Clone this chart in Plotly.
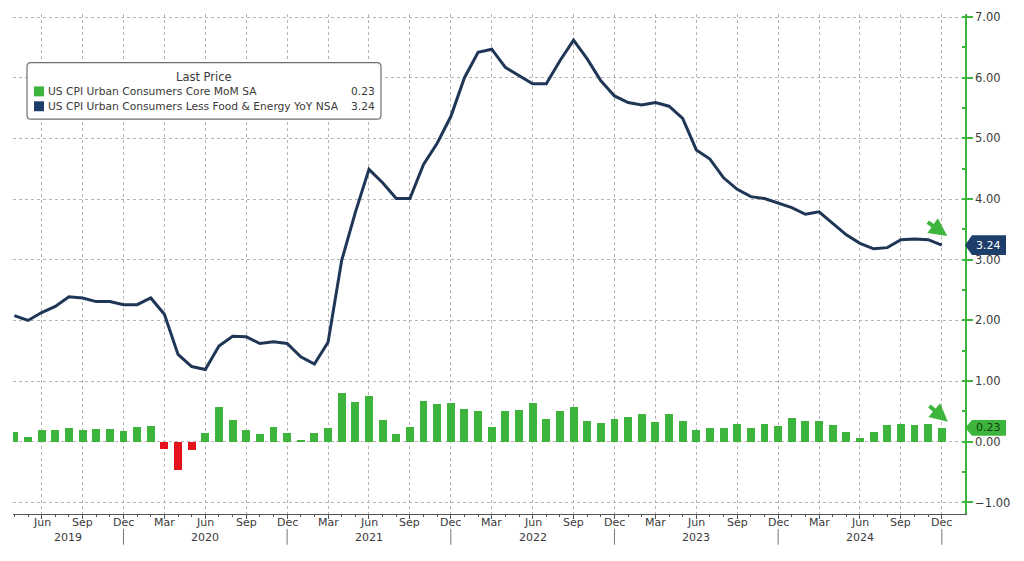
import plotly.graph_objects as go
import pandas as pd

# ---------------- data ----------------
months = pd.period_range("2019-04", "2024-12", freq="M")

core_mom = [
    0.16, 0.08, 0.19, 0.20, 0.22, 0.19, 0.21, 0.21, 0.17,
    0.245, 0.26, -0.12, -0.47, -0.13, 0.14, 0.58, 0.36, 0.19, 0.13, 0.25, 0.14,
    0.03, 0.14, 0.23, 0.80, 0.66, 0.75, 0.36, 0.13, 0.245, 0.68, 0.62, 0.64,
    0.54, 0.50, 0.245, 0.50, 0.53, 0.64, 0.37, 0.50, 0.58, 0.35, 0.31, 0.37,
    0.41, 0.46, 0.33, 0.46, 0.35, 0.19, 0.22, 0.22, 0.30, 0.23, 0.30, 0.26,
    0.39, 0.35, 0.35, 0.28, 0.16, 0.06, 0.16, 0.28, 0.30, 0.28, 0.30, 0.23,
]

core_yoy = [
    2.08, 2.00, 2.13, 2.23, 2.39, 2.37, 2.31, 2.31, 2.26,
    2.26, 2.37, 2.10, 1.44, 1.24, 1.19, 1.58, 1.74, 1.73, 1.62, 1.65, 1.62,
    1.40, 1.28, 1.64, 2.99, 3.78, 4.49, 4.27, 4.01, 4.01, 4.57, 4.92, 5.36,
    6.00, 6.42, 6.47, 6.17, 6.04, 5.90, 5.90, 6.28, 6.62, 6.31, 5.95, 5.70,
    5.59, 5.55, 5.59, 5.53, 5.33, 4.81, 4.66, 4.35, 4.16, 4.04, 4.01, 3.94,
    3.86, 3.75, 3.79, 3.60, 3.41, 3.27, 3.18, 3.20, 3.33, 3.34, 3.33, 3.24,
]

tick_labels = ["Jun", "Sep", "Dec",
               "Mar", "Jun", "Sep", "Dec",
               "Mar", "Jun", "Sep", "Dec",
               "Mar", "Jun", "Sep", "Dec",
               "Mar", "Jun", "Sep", "Dec",
               "Mar", "Jun", "Sep", "Dec"]
year_labels = ["2019", "2020", "2021", "2022", "2023", "2024"]

series_names = ["US CPI Urban Consumers Core MoM SA",
                "US CPI Urban Consumers Less Food & Energy YoY NSA"]

# ---------------- styling ----------------
GREEN = "#3db53d"
RED = "#e3121b"
NAVY = "#1f3656"
NAVY_BOX = "#1d3d6b"
GRID = "#b4b4b4"
TXT = "#3a3a3a"
FONT = "DejaVu Sans"

W, H = 1024, 561
ML, MR, MT, MB = 13, 59, 10, 47
PW, PH = W - ML - MR, H - MT - MB


def xp(px):
    return (px - ML) / PW


def yp(py):
    return (H - MB - py) / PH


idx = list(range(len(months)))
tick_pos = [i for i, m in enumerate(months) if m.month % 3 == 0]
dec_pos = [i for i, m in enumerate(months) if m.month == 12]

bar_colors = [GREEN if v >= 0 else RED for v in core_mom]

fig = go.Figure()
fig.add_trace(go.Bar(x=idx, y=core_mom, marker=dict(color=bar_colors, line=dict(width=0)),
                     width=0.58, name=series_names[0], showlegend=False))
fig.add_trace(go.Scatter(x=idx, y=core_yoy, mode="lines", line=dict(color=NAVY, width=3),
                         name=series_names[1], showlegend=False))

x_range = [-0.1, 69.7]
y_range = [-1.19, 7.05]

fig.update_layout(
    width=W, height=H,
    margin=dict(l=ML, r=MR, t=MT, b=MB),
    paper_bgcolor="white", plot_bgcolor="white",
    font=dict(family=FONT, size=11, color=TXT),
    bargap=0,
    xaxis=dict(
        range=x_range, tickmode="array", tickvals=tick_pos, ticktext=tick_labels,
        showticklabels=False,
        showgrid=True, gridcolor=GRID, griddash="dot", gridwidth=1,
        showline=True, linecolor="#555555", linewidth=1,
        ticks="outside", ticklen=4, tickcolor="#555555",
        minor=dict(tickmode="array", tickvals=idx, ticks="outside", ticklen=2,
                   tickcolor="#555555", showgrid=False),
        zeroline=False,
    ),
    yaxis=dict(
        range=y_range, side="right", dtick=1, tick0=0, tickformat=".2f",
        showgrid=True, gridcolor=GRID, griddash="dot", gridwidth=1,
        showline=True, linecolor=GREEN, linewidth=1.5,
        ticks="outside", ticklen=6, tickwidth=2, tickcolor=GREEN,
        minor=dict(dtick=0.5, tick0=0, ticks="inside", ticklen=3, tickcolor=GREEN, showgrid=False),
        tickfont=dict(size=11.5, color=TXT), zeroline=False,
    ),
)

shapes = []
annotations = []

# month labels
for pos, lab in zip(tick_pos, tick_labels):
    annotations.append(dict(x=pos, y=yp(523), xref="x", yref="paper", text=lab,
                            showarrow=False, font=dict(size=11, color=TXT),
                            xanchor="center", yanchor="middle"))

# year separators and labels
for d in dec_pos:
    shapes.append(dict(type="line", xref="x", yref="paper", x0=d, x1=d,
                       y0=yp(529), y1=yp(545), line=dict(color="#777777", width=1)))
bounds = [x_range[0]] + dec_pos
for k, yl in enumerate(year_labels):
    mid = (bounds[k] + bounds[k + 1]) / 2
    annotations.append(dict(x=mid, y=yp(537.5), xref="x", yref="paper", text=yl,
                            showarrow=False, font=dict(size=11, color=TXT),
                            xanchor="center", yanchor="middle"))

# legend box (rounded)
x0, x1, y0, y1 = xp(27), xp(381), yp(116), yp(59)
rx, ry = 4 / PW, 4 / PH
path = (f"M {x0+rx},{y1} L {x1-rx},{y1} Q {x1},{y1} {x1},{y1-ry} L {x1},{y0+ry} "
        f"Q {x1},{y0} {x1-rx},{y0} L {x0+rx},{y0} Q {x0},{y0} {x0},{y0+ry} "
        f"L {x0},{y1-ry} Q {x0},{y1} {x0+rx},{y1} Z")
shapes.append(dict(type="path", xref="paper", yref="paper", path=path,
                   fillcolor="white", line=dict(color="#6e6e6e", width=1.2), layer="above"))
shapes.append(dict(type="rect", xref="paper", yref="paper", x0=xp(34), x1=xp(44),
                   y0=yp(93), y1=yp(83), fillcolor=GREEN, line=dict(width=0), layer="above"))
shapes.append(dict(type="rect", xref="paper", yref="paper", x0=xp(34), x1=xp(44),
                   y0=yp(108), y1=yp(98), fillcolor=NAVY_BOX, line=dict(width=0), layer="above"))
LF = 10.7
annotations.append(dict(x=xp(204), y=yp(74), xref="paper", yref="paper", text="Last Price",
                        showarrow=False, font=dict(size=11.5, color=TXT), xanchor="center", yanchor="middle"))
annotations.append(dict(x=xp(46), y=yp(88), xref="paper", yref="paper", text=series_names[0],
                        showarrow=False, font=dict(size=LF, color=TXT), xanchor="left", yanchor="middle"))
annotations.append(dict(x=xp(46), y=yp(103), xref="paper", yref="paper", text=series_names[1],
                        showarrow=False, font=dict(size=LF, color=TXT), xanchor="left", yanchor="middle"))
annotations.append(dict(x=xp(377), y=yp(88), xref="paper", yref="paper", text=f"{core_mom[-1]:.2f}",
                        showarrow=False, font=dict(size=LF, color=TXT), xanchor="right", yanchor="middle"))
annotations.append(dict(x=xp(377), y=yp(103), xref="paper", yref="paper", text=f"{core_yoy[-1]:.2f}",
                        showarrow=False, font=dict(size=LF, color=TXT), xanchor="right", yanchor="middle"))

# last-value boxes on the right axis
unit = PH / (y_range[1] - y_range[0])


def value_box(v, half_px, fill, txtcol):
    h = half_px / unit
    p = (f"M 1.0,{v} L {xp(972)},{v+h} L {xp(1006)},{v+h} L {xp(1006)},{v-h} "
         f"L {xp(972)},{v-h} Z")
    shapes.append(dict(type="path", xref="paper", yref="y", path=p, fillcolor=fill,
                       line=dict(width=0), layer="above"))
    annotations.append(dict(x=xp(989), y=v, xref="paper", yref="y", text=f"{v:.2f}",
                            showarrow=False, font=dict(size=11, color=txtcol),
                            xanchor="center", yanchor="middle"))


value_box(core_yoy[-1], 10, NAVY_BOX, "white")
value_box(core_mom[-1], 8, GREEN, "#123d12")

# trend arrows
last = len(months) - 1
annotations.append(dict(x=last + 0.4, y=core_yoy[-1] + 0.15, xref="x", yref="y", text="",
                        showarrow=True, ax=-21, ay=-15, arrowhead=2, arrowsize=0.9,
                        arrowwidth=4, arrowcolor=GREEN, standoff=0))
annotations.append(dict(x=last + 0.45, y=core_mom[-1] + 0.1, xref="x", yref="y", text="",
                        showarrow=True, ax=-20, ay=-17, arrowhead=2, arrowsize=0.9,
                        arrowwidth=4, arrowcolor=GREEN, standoff=0))

fig.update_layout(shapes=shapes, annotations=annotations)

fig.write_html("out.html")
